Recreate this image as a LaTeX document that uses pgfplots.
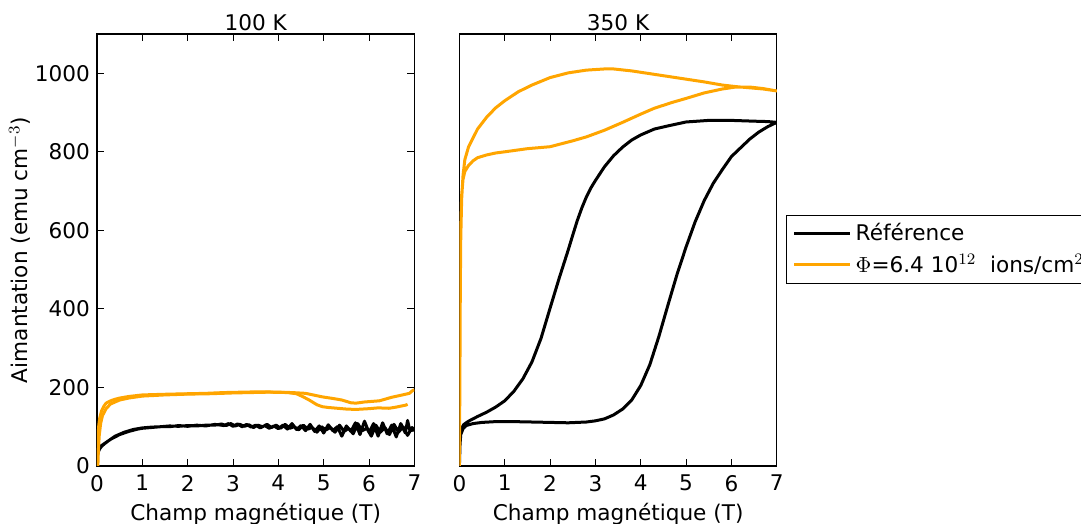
\documentclass[border=0pt]{standalone}
\usepackage{pgfplots}
\pgfplotsset{compat=1.18}
\usepackage{fontspec}
\setmainfont{DejaVu Sans}
\definecolor{myorange}{HTML}{FFA500}

\pgfplotstableread{
x y
0 20
0.02 32
0.05 42
0.1 50
0.17 57
0.25 64
0.3 68
0.4 74
0.5 80
0.6 84
0.7 88
0.8 91
0.9 94
1.0 96
1.2 98
1.4 100
1.6 100
1.8 103
2.0 101
2.2 104
2.4 102
2.6 106
2.8 103
2.9 108
3.0 101
3.1 107
3.2 100
3.3 106
3.4 99
3.5 104
3.6 97
3.7 103
3.8 96
3.9 102
4.0 95
4.1 104
4.2 94
4.3 108
4.4 93
4.5 103
4.6 90
4.7 106
4.8 88
4.9 102
5.0 84
5.1 105
5.2 90
5.3 100
5.4 76
5.5 102
5.6 88
5.7 110
5.8 80
5.9 114
6.0 85
6.1 108
6.2 76
6.3 110
6.4 82
6.5 104
6.6 74
6.7 108
6.8 84
6.85 116
6.9 90
7.0 92
6.95 98
6.85 78
6.75 100
6.65 86
6.55 106
6.45 80
6.35 98
6.25 86
6.15 104
6.05 76
5.95 96
5.85 90
5.75 108
5.65 82
5.55 96
5.45 88
5.35 104
5.25 86
5.15 98
5.05 92
4.95 100
4.85 86
4.75 98
4.65 94
4.55 104
4.45 92
4.35 100
4.25 96
4.15 106
4.05 96
3.95 104
3.85 98
3.75 106
3.65 100
3.55 104
3.45 98
3.35 105
3.25 101
3.15 106
3.05 102
2.95 108
2.85 103
2.75 107
2.6 104
2.4 104
2.2 102
2.0 103
1.8 101
1.6 102
1.4 100
1.2 99
1.0 97
0.8 93
0.6 86
0.4 76
0.2 60
0.1 52
0.05 46
0.02 36
0 24
}\blackcent

\pgfplotstableread{
x y
0 0
0.01 30
0.02 70
0.04 105
0.06 122
0.1 140
0.15 152
0.2 160
0.3 166
0.4 170
0.5 173
0.7 177
1.0 181
1.3 182
1.6 183
2.0 184
2.4 185
2.8 187
3.2 188
3.6 189
4.0 188
4.3 187
4.6 185
4.97 176
5.2 172
5.4 168
5.6 161
5.71 160
5.9 163
6.23 166
6.5 175
6.7 180
6.89 185
6.96 192
7.0 194
}\orangecentA

\pgfplotstableread{
x y
6.85 157
6.81 155
6.6 150
6.44 147
6.2 148
6.0 146
5.71 144
5.5 145
5.3 147
5.1 149
4.97 151
4.85 156
4.68 168
4.55 176
4.4 184
4.2 187
3.8 188
3.4 187
3.0 186
2.5 184
2.0 183
1.5 181
1.0 178
0.7 173
0.5 168
0.3 158
0.2 146
0.12 128
0.08 108
0.05 78
0.03 40
0.02 0
}\orangecentB

\pgfplotstableread{
x y
0 0
0.01 50
0.03 80
0.08 95
0.15 103
0.3 108
0.5 111
0.8 113
1.2 113
1.6 112
2.0 111
2.4 110
2.8 112
3.0 115
3.2 120
3.4 130
3.6 145
3.8 168
4.0 205
4.2 258
4.4 330
4.6 410
4.8 488
5.0 558
5.2 622
5.4 676
5.6 720
5.8 755
6.0 788
6.2 810
6.4 832
6.6 850
6.8 864
7.0 875
6.9 876
6.8 877
6.5 878
6.0 880
5.5 880
5.0 876
4.6 866
4.3 858
4.0 843
3.8 830
3.6 812
3.4 790
3.2 762
3.0 727
2.9 708
2.8 685
2.7 657
2.6 625
2.5 588
2.4 550
2.2 478
2.0 402
1.8 325
1.6 265
1.4 222
1.2 190
1.0 166
0.8 150
0.6 137
0.4 126
0.2 114
0.1 106
0.05 97
0.02 80
0 0
}\blacktrois

\pgfplotstableread{
x y
0 0
0.01 200
0.02 450
0.03 600
0.05 690
0.08 730
0.12 750
0.2 765
0.3 777
0.4 785
0.6 792
0.8 797
1.0 800
1.5 808
2.0 813
2.5 828
2.8 838
3.2 855
3.6 875
4.0 896
4.3 911
4.7 926
5.0 936
5.4 950
5.8 960
6.1 965
6.4 965
6.7 961
7.0 955
6.7 960
6.4 963
6.1 966
5.8 970
5.4 978
5.0 985
4.6 992
4.2 999
3.8 1006
3.4 1011
3.2 1011
2.8 1008
2.4 1001
2.0 989
1.6 970
1.3 953
1.0 930
0.8 912
0.6 888
0.4 858
0.3 835
0.2 812
0.12 780
0.08 740
0.05 680
0.03 580
0.02 450
0.01 250
0 0
}\orangetrois

\begin{document}
\begin{tikzpicture}
\pgfplotsset{
  every axis/.append style={font=\fontsize{10.8}{12.5}\selectfont},
  panel/.style={
    scale only axis, width=158.7pt, height=216pt,
    xmin=0, xmax=7, ymin=0, ymax=1100,
    xtick={0,1,...,7},
    tick align=inside, major tick length=3.5pt,
    xtick pos=both,
    axis line style={line width=0.7pt},
    every tick/.style={black, line width=0.5pt},
    /pgf/number format/assume math mode=true,
    /pgf/number format/set thousands separator={},
    xticklabel style={yshift=-1pt},
    xlabel={Champ magnétique (T)},
    xlabel style={yshift=1pt},
    title style={yshift=-8pt},
    every axis plot/.append style={line width=1.5pt, line join=round},
  },
}
\begin{axis}[panel, name=left, at={(0,0)}, anchor=south west,
  title={100 K},
  ytick={0,200,...,1000}, ytick pos=both,
  ylabel={Aimantation (emu cm$^{-3}$)},
  ylabel style={yshift=-4.5pt},
]
\addplot[black, no marks] table {\blackcent};
\addplot[myorange, no marks] table {\orangecentA};
\addplot[myorange, no marks] table {\orangecentB};
\end{axis}
\begin{axis}[panel, name=right, at={(181.2pt,0)}, anchor=south west,
  title={350 K},
  ytick=\empty,
  legend style={at={(1.029,0.581)}, anchor=north west, draw=black, line width=0.7pt,
    inner xsep=3pt, inner ysep=2pt, row sep=1pt,
    font=\fontsize{10.8}{12.5}\selectfont, legend cell align=left},
  legend image code/.code={\draw[#1, line width=1.5pt] (0pt,0pt) -- (23.5pt,0pt); \path (0pt,0pt) -- (28pt,0pt);},
]
\addplot[black, no marks] table {\blacktrois};
\addlegendentry{Référence}
\addplot[myorange, no marks] table {\orangetrois};
\addlegendentry{$\Phi$=6.4 10$^{12}$\ \ ions/cm$^{2}$}
\end{axis}
\pgfresetboundingbox
\path[use as bounding box] (-48.5pt,-29pt) rectangle ++(540.5pt,262pt);
\end{tikzpicture}
\end{document}
